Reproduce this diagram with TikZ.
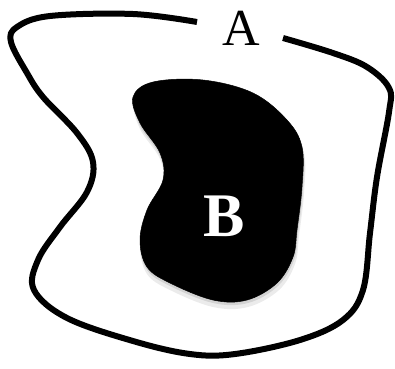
\documentclass[tikz,border=0pt]{standalone}
\usepackage{fontspec}
\setmainfont{Liberation Serif}
\tikzset{
  outline/.style={line width=6pt, line cap=butt, line join=round},
  blob/.style={fill=black, draw=black, line width=0.5pt},
  lbl/.style={inner sep=0pt, font=\fontsize{52}{52}\selectfont},
}
\begin{document}
\begin{tikzpicture}[x=1pt,y=-1pt]
\useasboundingbox (0,0) rectangle (395,368);
% outer boundary curve A
\draw[outline] plot[smooth, tension=0.6] coordinates {
 (197,22) (133,14) (50,16) (17,27) (11,42) (27,73) (43,97) (77,133)
 (93,162) (87,192) (60,227) (38,260) (34,290) (67,318) (133,341)
 (190,354) (235,354) (300,340) (343,320) (363,290) (370,233) (377,177)
 (389,112) (389,88) (367,67) (333,53) (283,38)};
% soft shadow
\fill[black, opacity=0.08] plot[smooth cycle, tension=0.6] coordinates {
 (134,102) (154,88) (204,86) (254,99) (289,126) (304,153) (304,193)
 (299,236) (295,264) (279,290) (248,307) (213,307) (170,290) (147,274)
 (140,246) (147,216) (163,186) (160,159) (140,129)};
\fill[black, opacity=0.10] plot[smooth cycle, tension=0.6] coordinates {
 (134,100) (154,85) (204,83) (254,96) (288,123) (303,150) (303,190)
 (298,233) (294,260) (278,286) (248,303) (213,303) (170,286) (147,270)
 (140,243) (147,213) (163,183) (160,156) (140,126)};
% blob B
\fill[blob] plot[smooth cycle, tension=0.6] coordinates {
 (133,97) (153,82) (203,80) (253,93) (287,120) (302,147) (302,187)
 (297,230) (293,257) (277,283) (247,300) (213,300) (170,283) (147,267)
 (140,240) (147,210) (163,180) (160,153) (140,123)};
\node[lbl] (A) at (241,28) {A};
\node[lbl, text=white, font=\fontsize{62}{62}\selectfont\bfseries] (B) at (224,216) {B};
\end{tikzpicture}
\end{document}
